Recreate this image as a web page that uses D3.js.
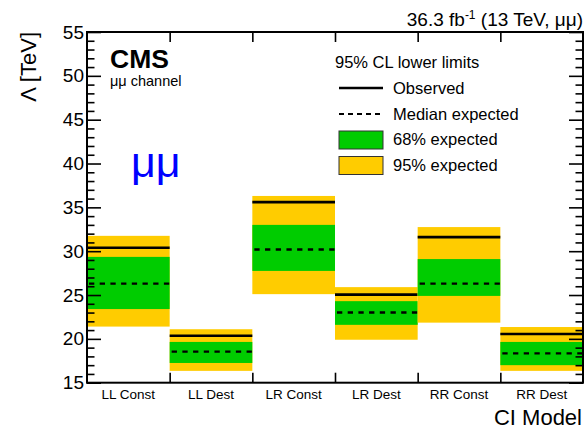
<!DOCTYPE html>
<html>
<head>
<meta charset="utf-8">
<script src="https://cdn.jsdelivr.net/npm/d3@7"></script>
<style>
  html, body { margin: 0; padding: 0; background: #fff; }
  svg { display: block; font-family: "Liberation Sans", Arial, Helvetica, sans-serif; }
</style>
</head>
<body>
<svg id="chart" width="585" height="430"></svg>
<script>
const categories = ["LL Const", "LL Dest", "LR Const", "LR Dest", "RR Const", "RR Dest"];
const observed = [30.4, 20.35, 35.6, 25.05, 31.6, 20.55];
const median   = [26.3, 18.55, 30.2, 23.0, 26.3, 18.35];
const lo68     = [23.4, 17.25, 27.75, 21.6, 24.9, 17.0];
const hi68     = [29.35, 19.65, 33.0, 24.3, 29.1, 19.65];
const lo95     = [21.4, 16.35, 25.1, 19.9, 21.85, 16.35];
const hi95     = [31.75, 21.1, 36.3, 25.9, 32.75, 21.35];
const yMajorTicks = [15, 20, 25, 30, 35, 40, 45, 50, 55];
const yMinorTicks = d3.range(16, 55).filter(v => v % 5 !== 0);

const L = 87, R = 583, T = 32, B = 382.7;
const svg = d3.select("#chart");

const x = d3.scaleBand().domain(categories).range([L, R]).padding(0);
const xi = d3.scaleLinear().domain([0, categories.length]).range([L, R]);
const y = d3.scaleLinear().domain([15, 55]).range([B, T]);

const YELLOW = "#ffcc00", GREEN = "#00cc00";

// bands
const g = svg.append("g");
categories.forEach((c, i) => {
  const x0 = x(c), w = x.bandwidth();
  g.append("rect").attr("x", x0).attr("width", w)
    .attr("y", y(hi95[i])).attr("height", y(lo95[i]) - y(hi95[i])).attr("fill", YELLOW);
  g.append("rect").attr("x", x0).attr("width", w)
    .attr("y", y(hi68[i])).attr("height", y(lo68[i]) - y(hi68[i])).attr("fill", GREEN);
  g.append("line").attr("x1", x0).attr("x2", x0 + w)
    .attr("y1", y(observed[i])).attr("y2", y(observed[i]))
    .attr("stroke", "#000").attr("stroke-width", 2.6);
  g.append("line").attr("x1", x0 + 2).attr("x2", x0 + w)
    .attr("y1", y(median[i])).attr("y2", y(median[i]))
    .attr("stroke", "#000").attr("stroke-width", 2.4).attr("stroke-dasharray", "5.3,5.4");
});

// axes
function styleAxis(sel) {
  sel.select(".domain").remove();
  sel.selectAll(".tick line").attr("stroke", "#000").attr("stroke-width", 1.6);
}
svg.append("g").attr("transform", `translate(${L},0)`)
  .call(d3.axisLeft(y).tickValues(yMajorTicks).tickSize(-14).tickPadding(3).tickFormat(d3.format("d")))
  .call(styleAxis)
  .selectAll("text").attr("font-size", 19).attr("font-family", "Liberation Sans, Arial, sans-serif").attr("fill", "#000");
svg.append("g").attr("transform", `translate(${L},0)`)
  .call(d3.axisLeft(y).tickValues(yMinorTicks).tickSize(-7.5).tickFormat(""))
  .call(styleAxis);
svg.append("g").attr("transform", `translate(${R},0)`)
  .call(d3.axisRight(y).tickValues(yMajorTicks).tickSize(-14).tickFormat(""))
  .call(styleAxis);
svg.append("g").attr("transform", `translate(${R},0)`)
  .call(d3.axisRight(y).tickValues(yMinorTicks).tickSize(-7.5).tickFormat(""))
  .call(styleAxis);
svg.append("g").attr("transform", `translate(0,${B})`)
  .call(d3.axisBottom(xi).tickValues(d3.range(1, categories.length)).tickSize(-10).tickFormat(""))
  .call(styleAxis);
svg.append("g").attr("transform", `translate(0,${T})`)
  .call(d3.axisTop(xi).tickValues(d3.range(1, categories.length)).tickSize(-10).tickFormat(""))
  .call(styleAxis);
svg.append("g").attr("transform", `translate(0,${B})`)
  .call(d3.axisBottom(x).tickSize(0).tickPadding(7))
  .call(styleAxis)
  .selectAll("text").attr("font-size", 13.5).attr("font-family", "Liberation Sans, Arial, sans-serif").attr("fill", "#000");

// frame
svg.append("rect").attr("x", L).attr("y", T).attr("width", R - L).attr("height", B - T)
  .attr("fill", "none").attr("stroke", "#000").attr("stroke-width", 2);

// titles
svg.append("text").attr("transform", `translate(36,${T}) rotate(-90)`)
  .attr("text-anchor", "end").attr("font-size", 22).text("Λ [TeV]");
svg.append("text").attr("x", 582).attr("y", 424.5).attr("text-anchor", "end")
  .attr("font-size", 22).text("CI Model");

const lumi = svg.append("text").attr("x", R).attr("y", 26).attr("text-anchor", "end").attr("font-size", 19);
lumi.append("tspan").text("36.3 fb");
lumi.append("tspan").attr("font-size", 12).attr("dy", -7).text("-1");
lumi.append("tspan").attr("dy", 7).text(" (13 TeV, μμ)");

svg.append("text").attr("x", 110).attr("y", 68).attr("font-size", 26.5).attr("font-weight", "bold").text("CMS");
svg.append("text").attr("x", 110).attr("y", 86).attr("font-size", 14.5).text("μμ channel");
svg.append("text").attr("x", 131).attr("y", 177).attr("font-size", 43).attr("fill", "#0000ff").text("μμ");

// legend
const lg = svg.append("g");
const lfs = 16.5;
lg.append("text").attr("x", 335).attr("y", 68).attr("font-size", lfs).text("95% CL lower limits");
const lx0 = 339, lx1 = 383, tx = 393;
lg.append("line").attr("x1", lx0).attr("x2", lx1).attr("y1", 88).attr("y2", 88)
  .attr("stroke", "#000").attr("stroke-width", 2.4);
lg.append("text").attr("x", tx).attr("y", 93.5).attr("font-size", lfs).text("Observed");
lg.append("line").attr("x1", lx0).attr("x2", lx1).attr("y1", 114).attr("y2", 114)
  .attr("stroke", "#000").attr("stroke-width", 2.2).attr("stroke-dasharray", "5,4");
lg.append("text").attr("x", tx).attr("y", 119.5).attr("font-size", lfs).text("Median expected");
lg.append("rect").attr("x", lx0).attr("y", 131).attr("width", lx1 - lx0).attr("height", 18)
  .attr("fill", GREEN).attr("stroke", "#333").attr("stroke-width", 1);
lg.append("text").attr("x", tx).attr("y", 145).attr("font-size", lfs).text("68% expected");
lg.append("rect").attr("x", lx0).attr("y", 156.5).attr("width", lx1 - lx0).attr("height", 18)
  .attr("fill", YELLOW).attr("stroke", "#333").attr("stroke-width", 1);
lg.append("text").attr("x", tx).attr("y", 170.5).attr("font-size", lfs).text("95% expected");
</script>
</body>
</html>
